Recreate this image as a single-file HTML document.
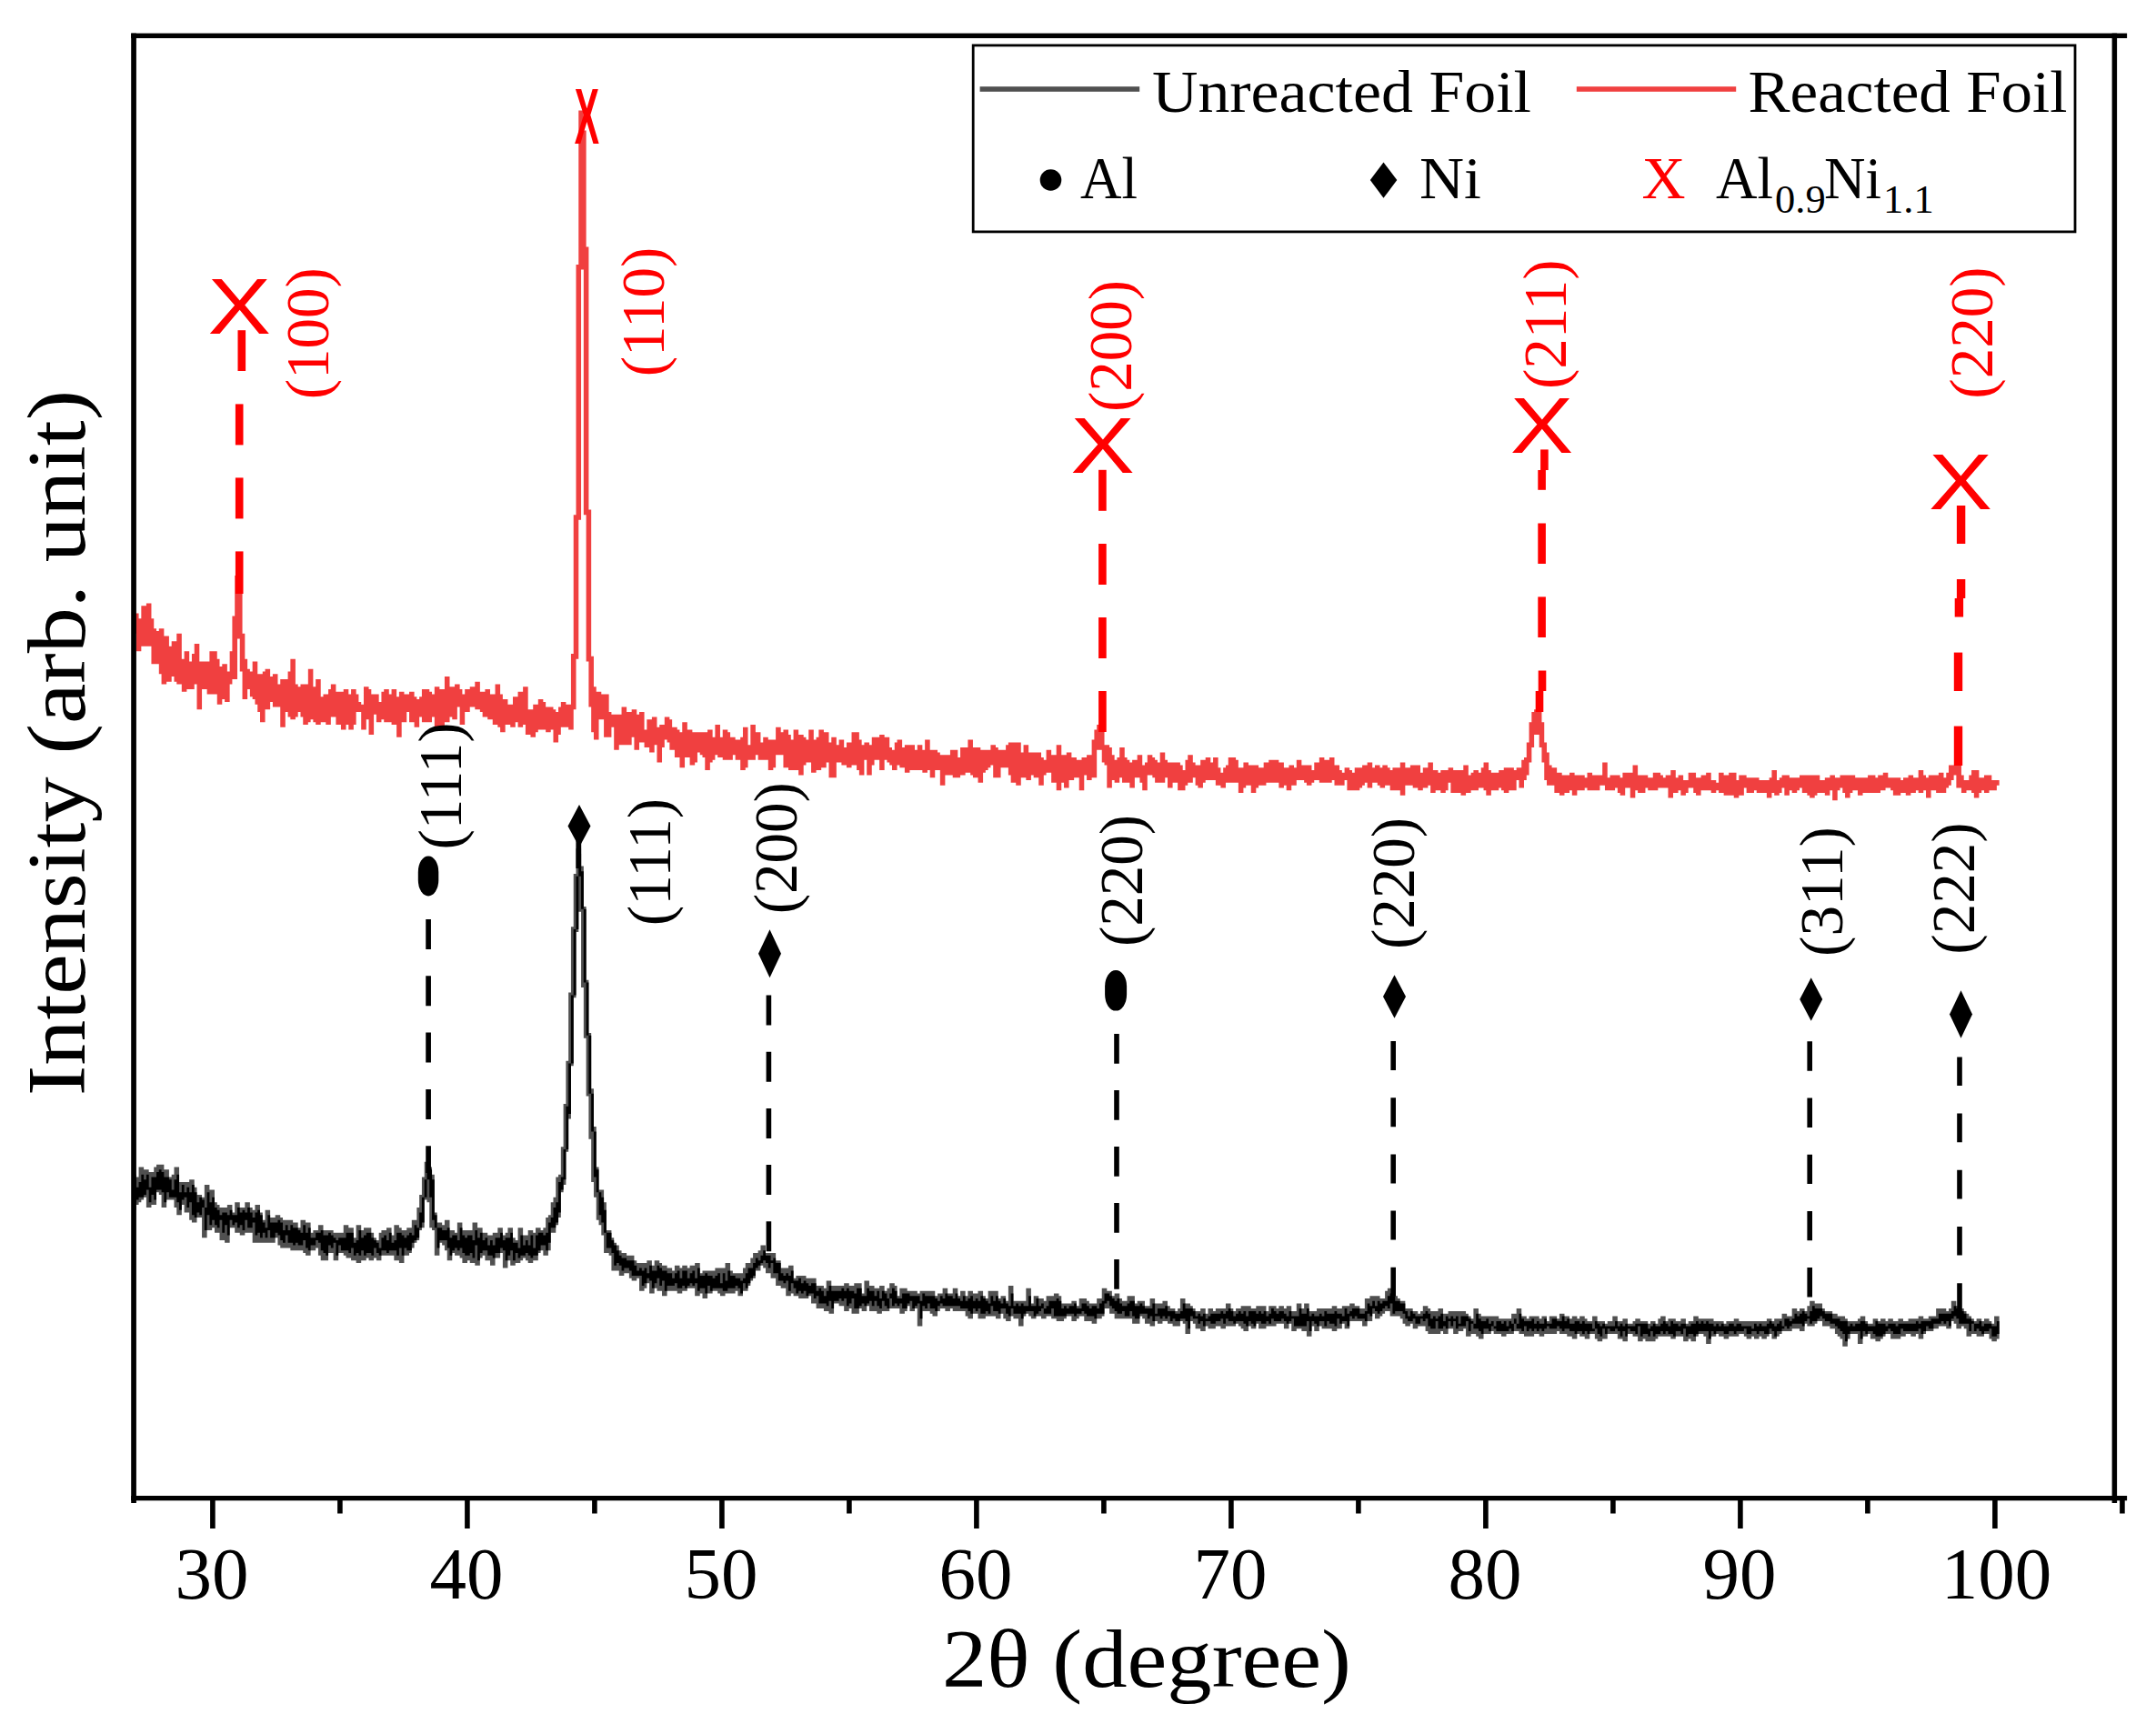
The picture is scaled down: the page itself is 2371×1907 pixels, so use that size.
<!DOCTYPE html>
<html lang="en"><head><meta charset="utf-8"><title>XRD patterns of unreacted and reacted Al/Ni foil</title>
<style>html,body{margin:0;padding:0;background:#fff;}svg{display:block;}</style></head>
<body>
<svg width="2371" height="1907" viewBox="0 0 2371 1907">
<rect x="0" y="0" width="2371" height="1907" fill="#fff"/>
<path d="M147.00 674.60H152.56V680.16H155.34V666.26H160.90V663.48H166.46V680.16H169.24V691.28H172.02V694.06H174.80V691.28H180.36V699.62H185.92V710.74H188.70V705.18H194.26V696.84H199.82V724.64H202.60V716.30H208.16V727.42H210.94V719.08H213.72V707.96H219.28V727.42H230.40V716.30H238.74V724.64H241.52V732.98H244.30V730.20H249.86V738.54H252.64V716.30H255.42V677.38H258.20V632.90H260.98V630.12H266.54V696.84H269.32V724.64H272.10V735.76H274.88V738.54H277.66V727.42H283.22V741.32H288.78V738.54H291.56V735.76H297.12V744.10H299.90V741.32H305.46V752.44H308.24V746.88H316.58V738.54H319.36V724.64H324.92V752.44H327.70V755.22H330.48V752.44H338.82V735.76H344.38V755.22H347.16V746.88H352.72V766.34H355.50V763.56H361.06V758.00H363.84V752.44H369.40V760.78H377.74V758.00H383.30V763.56H386.08V758.00H391.64V763.56H394.42V771.90H397.20V774.68H399.98V755.22H405.54V758.00H408.32V763.56H416.66V771.90H419.44V760.78H422.22V758.00H427.78V763.56H430.56V758.00H436.12V766.34H438.90V760.78H444.46V763.56H450.02V760.78H455.58V766.34H458.36V769.12H461.14V766.34H463.92V758.00H472.26V760.78H475.04V763.56H477.82V755.22H483.38V758.00H488.94V744.10H494.50V755.22H500.06V752.44H505.62V758.00H508.40V763.56H511.18V758.00H516.74V755.22H522.30V749.66H527.86V760.78H533.42V758.00H538.98V763.56H544.54V752.44H550.10V763.56H552.88V769.12H558.44V774.68H564.00V766.34H569.56V760.78H575.12V755.22H580.68V780.24H586.24V774.68H591.80V769.12H597.36V771.90H600.14V777.46H608.48V780.24H611.26V783.02H614.04V777.46H616.82V771.90H622.38V774.68H627.94V719.08H630.72V566.18H633.50V290.96H636.28V121.38H641.84V143.62H644.62V271.50H647.40V560.62H650.18V721.86H652.96V755.22H655.74V760.78H661.30V763.56H669.64V783.02H672.42V785.80H683.54V777.46H689.10V783.02H694.66V780.24H700.22V785.80H703.00V783.02H708.56V802.48H711.34V791.36H716.90V788.58H722.46V799.70H725.24V796.92H730.80V788.58H736.36V791.36H739.14V799.70H744.70V802.48H747.48V805.26H750.26V794.14H755.82V802.48H761.38V805.26H778.06V802.48H783.62V810.82H786.40V796.92H791.96V810.82H794.74V802.48H800.30V805.26H803.08V810.82H808.64V813.60H814.20V810.82H816.98V799.70H822.54V819.16H825.32V796.92H830.88V805.26H836.44V816.38H839.22V810.82H844.78V813.60H853.12V799.70H858.68V805.26H861.46V802.48H867.02V808.04H869.80V813.60H872.58V802.48H878.14V808.04H883.70V810.82H886.48V813.60H889.26V802.48H894.82V813.60H897.60V810.82H900.38V802.48H905.94V805.26H911.50V816.38H914.28V810.82H919.84V819.16H922.62V813.60H928.18V821.94H930.96V816.38H936.52V805.26H944.86V813.60H947.64V819.16H950.42V816.38H955.98V819.16H958.76V810.82H967.10V808.04H972.66V810.82H978.22V821.94H981.00V824.72H983.78V816.38H986.56V813.60H992.12V821.94H994.90V819.16H1006.02V824.72H1008.80V819.16H1014.36V824.72H1017.14V813.60H1022.70V824.72H1031.04V827.50H1033.82V830.28H1044.94V824.72H1053.28V833.06H1056.06V821.94H1064.40V813.60H1069.96V821.94H1078.30V824.72H1089.42V819.16H1094.98V821.94H1097.76V824.72H1106.10V819.16H1108.88V816.38H1122.78V827.50H1125.56V819.16H1131.12V827.50H1145.02V833.06H1147.80V835.84H1150.58V824.72H1156.14V830.28H1161.70V819.16H1167.26V830.28H1172.82V827.50H1178.38V833.06H1183.94V835.84H1189.50V833.06H1195.06V830.28H1200.62V813.60H1203.40V802.48H1206.18V796.92H1211.74V802.48H1214.52V819.16H1220.08V821.94H1222.86V830.28H1225.64V835.84H1228.42V833.06H1231.20V821.94H1236.76V833.06H1239.54V835.84H1242.32V838.62H1245.10V835.84H1250.66V830.28H1256.22V841.40H1259.00V838.62H1261.78V830.28H1267.34V833.06H1270.12V835.84H1272.90V838.62H1275.68V827.50H1281.24V835.84H1284.02V838.62H1297.92V841.40H1300.70V846.96H1303.48V835.84H1306.26V830.28H1311.82V838.62H1314.60V841.40H1320.16V835.84H1325.72V833.06H1331.28V838.62H1334.06V833.06H1339.62V844.18H1342.40V849.74H1345.18V844.18H1347.96V841.40H1350.74V833.06H1359.08V835.84H1361.86V844.18H1367.42V838.62H1372.98V841.40H1384.10V844.18H1389.66V838.62H1395.22V835.84H1406.34V838.62H1411.90V844.18H1417.46V841.40H1423.02V844.18H1425.80V835.84H1431.36V841.40H1442.48V846.96H1445.26V838.62H1450.82V833.06H1456.38V835.84H1461.94V833.06H1467.50V841.40H1473.06V846.96H1475.84V849.74H1478.62V844.18H1484.18V846.96H1486.96V849.74H1489.74V844.18H1498.08V841.40H1503.64V838.62H1509.20V844.18H1511.98V841.40H1517.54V844.18H1520.32V841.40H1525.88V844.18H1528.66V846.96H1531.44V844.18H1539.78V838.62H1545.34V844.18H1550.90V841.40H1562.02V849.74H1564.80V844.18H1570.36V838.62H1575.92V846.96H1581.48V849.74H1584.26V846.96H1592.60V844.18H1598.16V846.96H1609.28V841.40H1614.84V852.52H1617.62V849.74H1620.40V846.96H1625.96V849.74H1628.74V844.18H1631.52V838.62H1637.08V846.96H1639.86V849.74H1648.20V846.96H1653.76V844.18H1664.88V846.96H1667.66V844.18H1673.22V835.84H1676.00V833.06H1678.78V816.38H1681.56V794.14H1684.34V783.02H1687.12V780.24H1695.46V794.14H1698.24V816.38H1701.02V827.50H1703.80V841.40H1706.58V844.18H1712.14V849.74H1717.70V852.52H1726.04V849.74H1731.60V852.52H1742.72V855.30H1745.50V849.74H1751.06V852.52H1762.18V838.62H1767.74V855.30H1770.52V852.52H1781.64V855.30H1784.42V849.74H1795.54V841.40H1801.10V852.52H1812.22V855.30H1817.78V849.74H1826.12V852.52H1828.90V855.30H1831.68V852.52H1837.24V846.96H1842.80V855.30H1845.58V852.52H1851.14V858.08H1856.70V849.74H1865.04V855.30H1870.60V852.52H1876.16V849.74H1881.72V858.08H1887.28V860.86H1890.06V849.74H1895.62V852.52H1901.18V849.74H1909.52V858.08H1912.30V852.52H1920.64V855.30H1934.54V858.08H1945.66V855.30H1948.44V846.96H1954.00V858.08H1956.78V855.30H1959.56V852.52H1967.90V855.30H1979.02V852.52H2001.26V858.08H2006.82V855.30H2012.38V852.52H2017.94V855.30H2023.50V852.52H2040.18V855.30H2054.08V852.52H2062.42V855.30H2065.20V852.52H2070.76V849.74H2076.32V855.30H2090.22V858.08H2093.00V855.30H2098.56V852.52H2104.12V855.30H2109.68V846.96H2115.24V852.52H2118.02V855.30H2120.80V852.52H2131.92V849.74H2137.48V855.30H2140.26V849.74H2143.04V841.40H2156.94V852.52H2159.72V858.08H2165.28V852.52H2168.06V846.96H2176.40V855.30H2181.96V852.52H2190.30V858.08H2198.64V863.64H2195.86V869.20H2187.52V871.98H2181.96V869.20H2179.18V871.98H2176.40V877.54H2170.84V871.98H2168.06V869.20H2162.50V871.98H2156.94V866.42H2151.38V852.52H2148.60V858.08H2145.82V863.64H2143.04V866.42H2140.26V871.98H2129.14V869.20H2123.58V877.54H2118.02V869.20H2115.24V871.98H2109.68V869.20H2106.90V871.98H2101.34V874.76H2095.78V871.98H2090.22V874.76H2081.88V869.20H2079.10V866.42H2073.54V869.20H2067.98V871.98H2048.52V874.76H2042.96V869.20H2037.40V871.98H2034.62V877.54H2029.06V871.98H2026.28V866.42H2023.50V869.20H2020.72V880.32H2015.16V869.20H2012.38V874.76H2006.82V871.98H1998.48V874.76H1995.70V877.54H1990.14V874.76H1987.36V871.98H1981.80V866.42H1979.02V869.20H1976.24V871.98H1970.68V869.20H1967.90V874.76H1962.34V866.42H1959.56V871.98H1956.78V874.76H1951.22V871.98H1948.44V877.54H1942.88V871.98H1931.76V869.20H1928.98V871.98H1920.64V866.42H1917.86V874.76H1912.30V877.54H1906.74V874.76H1895.62V871.98H1890.06V869.20H1887.28V871.98H1881.72V869.20H1870.60V874.76H1865.04V871.98H1862.26V866.42H1856.70V871.98H1853.92V874.76H1848.36V869.20H1845.58V871.98H1840.02V877.54H1834.46V866.42H1823.34V869.20H1812.22V866.42H1809.44V871.98H1801.10V869.20H1798.32V877.54H1792.76V866.42H1787.20V874.76H1781.64V871.98H1778.86V866.42H1776.08V869.20H1764.96V863.64H1759.40V869.20H1745.50V866.42H1742.72V869.20H1734.38V874.76H1728.82V869.20H1726.04V871.98H1720.48V874.76H1714.92V871.98H1709.36V863.64H1701.02V858.08H1698.24V838.62H1695.46V821.94H1692.68V808.04H1687.12V821.94H1684.34V838.62H1681.56V852.52H1678.78V858.08H1676.00V866.42H1670.44V858.08H1667.66V869.20H1659.32V871.98H1653.76V869.20H1650.98V866.42H1648.20V869.20H1639.86V874.76H1634.30V869.20H1631.52V866.42H1625.96V869.20H1617.62V871.98H1612.06V874.76H1606.50V871.98H1595.38V860.86H1592.60V869.20H1589.82V871.98H1584.26V869.20H1578.70V871.98H1573.14V863.64H1570.36V866.42H1564.80V869.20H1559.24V866.42H1553.68V863.64H1545.34V874.76H1539.78V869.20H1528.66V863.64H1523.10V866.42H1517.54V863.64H1514.76V860.86H1509.20V866.42H1503.64V860.86H1500.86V863.64H1498.08V866.42H1495.30V869.20H1481.40V858.08H1478.62V863.64H1467.50V858.08H1464.72V860.86H1450.82V858.08H1445.26V860.86H1442.48V863.64H1436.92V860.86H1434.14V858.08H1425.80V863.64H1420.24V869.20H1414.68V863.64H1411.90V866.42H1406.34V860.86H1392.44V863.64H1384.10V866.42H1381.32V871.98H1375.76V863.64H1370.20V866.42H1367.42V871.98H1361.86V860.86H1347.96V866.42H1342.40V863.64H1336.84V858.08H1325.72V860.86H1322.94V866.42H1317.38V863.64H1314.60V855.30H1311.82V860.86H1306.26V863.64H1303.48V869.20H1295.14V860.86H1289.58V866.42H1284.02V855.30H1281.24V860.86H1270.12V855.30H1267.34V852.52H1261.78V869.20H1256.22V860.86H1253.44V855.30H1247.88V866.42H1242.32V860.86H1233.98V855.30H1231.20V860.86H1225.64V858.08H1222.86V866.42H1217.30V841.40H1214.52V838.62H1211.74V824.72H1206.18V855.30H1200.62V858.08H1195.06V852.52H1192.28V869.20H1186.72V855.30H1181.16V858.08H1175.60V866.42H1170.04V860.86H1167.26V869.20H1161.70V860.86H1156.14V849.74H1150.58V852.52H1147.80V863.64H1142.24V855.30H1136.68V852.52H1133.90V858.08H1128.34V855.30H1122.78V863.64H1117.22V860.86H1111.66V852.52H1108.88V844.18H1100.54V855.30H1092.20V841.40H1089.42V844.18H1086.64V846.96H1083.86V849.74H1081.08V860.86H1075.52V855.30H1069.96V852.52H1067.18V849.74H1061.62V852.52H1056.06V855.30H1047.72V852.52H1039.38V863.64H1033.82V846.96H1028.26V855.30H1022.70V846.96H1019.92V849.74H1014.36V846.96H1000.46V849.74H994.90V844.18H989.34V841.40H986.56V846.96H981.00V841.40H978.22V838.62H975.44V835.84H972.66V846.96H967.10V835.84H961.54V841.40H958.76V852.52H953.20V835.84H950.42V852.52H944.86V846.96H942.08V841.40H936.52V844.18H930.96V841.40H925.40V838.62H919.84V855.30H911.50V838.62H908.72V844.18H903.16V846.96H897.60V849.74H892.04V838.62H886.48V841.40H883.70V852.52H878.14V846.96H867.02V844.18H861.46V830.28H853.12V844.18H850.34V846.96H844.78V835.84H833.66V830.28H830.88V835.84H822.54V844.18H819.76V846.96H814.20V835.84H808.64V830.28H805.86V835.84H794.74V833.06H789.18V830.28H786.40V835.84H783.62V838.62H780.84V846.96H775.28V833.06H772.50V830.28H769.72V827.50H766.94V838.62H764.16V841.40H758.60V833.06H753.04V844.18H747.48V833.06H741.92V824.72H736.36V816.38H733.58V813.60H730.80V821.94H728.02V838.62H722.46V819.16H719.68V827.50H714.12V821.94H708.56V816.38H703.00V824.72H697.44V810.82H694.66V819.16H680.76V824.72H675.20V799.70H672.42V810.82H664.08V791.36H658.52V813.60H652.96V805.26H650.18V777.46H647.40V727.42H644.62V566.18H641.84V296.52H639.06V571.74H636.28V724.64H633.50V780.24H630.72V802.48H625.16V799.70H616.82V808.04H614.04V816.38H608.48V802.48H605.70V805.26H600.14V802.48H591.80V805.26H589.02V810.82H583.46V808.04H577.90V796.92H575.12V799.70H569.56V794.14H566.78V799.70H561.22V796.92H555.66V805.26H550.10V799.70H547.32V796.92H541.76V791.36H536.20V788.58H530.64V783.02H527.86V780.24H522.30V777.46H516.74V783.02H511.18V796.92H505.62V777.46H502.84V791.36H497.28V788.58H494.50V794.14H488.94V799.70H483.38V802.48H477.82V788.58H475.04V794.14H463.92V788.58H461.14V799.70H455.58V794.14H450.02V783.02H447.24V794.14H441.68V810.82H436.12V796.92H430.56V794.14H422.22V791.36H419.44V794.14H413.88V785.80H411.10V808.04H405.54V791.36H402.76V802.48H397.20V783.02H391.64V796.92H388.86V802.48H383.30V796.92H380.52V802.48H374.96V796.92H369.40V788.58H363.84V796.92H358.28V794.14H352.72V796.92H347.16V794.14H344.38V791.36H341.60V794.14H338.82V796.92H333.26V788.58H330.48V783.02H327.70V788.58H324.92V791.36H319.36V788.58H316.58V783.02H313.80V799.70H308.24V777.46H299.90V771.90H297.12V780.24H291.56V794.14H286.00V783.02H283.22V774.68H280.44V769.12H277.66V766.34H274.88V758.00H272.10V769.12H266.54V738.54H263.76V702.40H260.98V746.88H255.42V752.44H252.64V771.90H247.08V769.12H244.30V774.68H238.74V763.56H227.62V758.00H222.06V780.24H216.50V752.44H213.72V758.00H205.38V760.78H199.82V752.44H194.26V749.66H191.48V744.10H188.70V749.66H183.14V752.44H177.58V741.32H174.80V730.20H166.46V710.74H155.34V716.30H149.78V696.84H147.00Z" fill="#F04040"/>
<path d="M147.00 1291.76H149.78V1294.54H152.56V1283.42H158.12V1286.20H163.68V1288.98H169.24V1283.42H172.02V1280.64H180.36V1286.20H185.92V1294.54H188.70V1291.76H191.48V1283.42H197.04V1300.10H208.16V1297.32H213.72V1305.66H216.50V1314.00H222.06V1316.78H224.84V1302.88H230.40V1308.44H235.96V1322.34H238.74V1325.12H241.52V1327.90H249.86V1325.12H255.42V1333.46H258.20V1322.34H263.76V1327.90H269.32V1322.34H274.88V1327.90H277.66V1330.68H280.44V1325.12H286.00V1333.46H288.78V1341.80H291.56V1330.68H297.12V1339.02H302.68V1336.24H308.24V1339.02H311.02V1341.80H322.14V1344.58H327.70V1350.14H330.48V1341.80H336.04V1344.58H341.60V1355.70H344.38V1352.92H349.94V1347.36H355.50V1352.92H366.62V1355.70H377.74V1347.36H383.30V1350.14H388.86V1361.26H391.64V1347.36H397.20V1352.92H399.98V1350.14H408.32V1355.70H411.10V1361.26H413.88V1364.04H416.66V1355.70H419.44V1352.92H425.00V1350.14H430.56V1358.48H433.34V1347.36H438.90V1350.14H441.68V1352.92H447.24V1350.14H452.80V1341.80H458.36V1327.90H461.14V1314.00H463.92V1294.54H466.70V1277.86H472.26V1283.42H475.04V1291.76H477.82V1333.46H480.60V1344.58H486.16V1347.36H488.94V1341.80H494.50V1352.92H500.06V1355.70H502.84V1344.58H508.40V1352.92H519.52V1344.58H525.08V1350.14H530.64V1355.70H536.20V1358.48H541.76V1355.70H547.32V1350.14H552.88V1358.48H555.66V1355.70H558.44V1350.14H564.00V1361.26H566.78V1364.04H569.56V1350.14H575.12V1358.48H580.68V1352.92H586.24V1355.70H589.02V1350.14H594.58V1352.92H597.36V1350.14H600.14V1339.02H602.92V1336.24H605.70V1322.34H608.48V1316.78H611.26V1294.54H614.04V1291.76H616.82V1261.18H619.60V1213.92H622.38V1166.66H625.16V1091.60H627.94V1019.32H630.72V960.94H633.50V933.14H639.06V952.60H641.84V997.08H644.62V1077.70H647.40V1136.08H650.18V1197.24H652.96V1238.94H655.74V1283.42H658.52V1308.44H664.08V1322.34H666.86V1352.92H672.42V1361.26H675.20V1366.82H677.98V1369.60H680.76V1375.16H683.54V1377.94H689.10V1380.72H697.44V1386.28H700.22V1389.06H711.34V1386.28H716.90V1391.84H719.68V1386.28H725.24V1389.06H728.02V1391.84H733.58V1394.62H739.14V1397.40H741.92V1391.84H747.48V1394.62H750.26V1391.84H755.82V1394.62H758.60V1391.84H764.16V1389.06H769.72V1400.18H772.50V1397.40H786.40V1394.62H797.52V1389.06H803.08V1397.40H805.86V1400.18H816.98V1394.62H819.76V1389.06H825.32V1383.50H828.10V1377.94H833.66V1375.16H836.44V1369.60H842.00V1377.94H853.12V1386.28H858.68V1394.62H867.02V1391.84H872.58V1405.74H875.36V1402.96H886.48V1405.74H897.60V1414.08H905.94V1416.86H908.72V1408.52H914.28V1414.08H928.18V1411.30H933.74V1414.08H939.30V1411.30H947.64V1422.42H950.42V1408.52H955.98V1414.08H961.54V1416.86H967.10V1414.08H972.66V1419.64H975.44V1416.86H978.22V1411.30H983.78V1414.08H986.56V1425.20H989.34V1416.86H997.68V1419.64H1008.80V1422.42H1011.58V1419.64H1028.26V1425.20H1031.04V1422.42H1036.60V1416.86H1042.16V1422.42H1047.72V1416.86H1053.28V1425.20H1056.06V1419.64H1061.62V1425.20H1064.40V1419.64H1069.96V1422.42H1075.52V1419.64H1081.08V1425.20H1083.86V1427.98H1086.64V1419.64H1097.76V1427.98H1100.54V1425.20H1106.10V1430.76H1108.88V1414.08H1114.44V1430.76H1128.34V1416.86H1133.90V1433.54H1136.68V1425.20H1142.24V1427.98H1147.80V1430.76H1150.58V1425.20H1158.92V1422.42H1164.48V1425.20H1167.26V1433.54H1178.38V1430.76H1183.94V1436.32H1186.72V1427.98H1195.06V1430.76H1197.84V1433.54H1206.18V1427.98H1211.74V1416.86H1217.30V1419.64H1222.86V1425.20H1225.64V1422.42H1231.20V1427.98H1233.98V1430.76H1239.54V1425.20H1247.88V1433.54H1250.66V1430.76H1259.00V1436.32H1264.56V1427.98H1270.12V1433.54H1278.46V1430.76H1284.02V1436.32H1286.80V1439.10H1292.36V1441.88H1295.14V1439.10H1297.92V1427.98H1303.48V1433.54H1309.04V1436.32H1311.82V1439.10H1314.60V1441.88H1320.16V1439.10H1325.72V1444.66H1328.50V1439.10H1334.06V1441.88H1336.84V1439.10H1347.96V1433.54H1353.52V1439.10H1356.30V1441.88H1359.08V1439.10H1364.64V1436.32H1375.76V1439.10H1381.32V1436.32H1392.44V1441.88H1395.22V1436.32H1403.56V1439.10H1406.34V1436.32H1411.90V1439.10H1414.68V1436.32H1420.24V1441.88H1425.80V1433.54H1431.36V1439.10H1434.14V1433.54H1439.70V1441.88H1448.04V1439.10H1464.72V1436.32H1470.28V1439.10H1475.84V1436.32H1484.18V1433.54H1489.74V1436.32H1495.30V1439.10H1500.86V1427.98H1506.42V1425.20H1517.54V1427.98H1523.10V1419.64H1525.88V1416.86H1531.44V1419.64H1534.22V1425.20H1537.00V1427.98H1539.78V1430.76H1545.34V1439.10H1553.68V1441.88H1559.24V1444.66H1562.02V1441.88H1564.80V1436.32H1570.36V1439.10H1573.14V1441.88H1581.48V1439.10H1587.04V1444.66H1592.60V1441.88H1612.06V1444.66H1614.84V1447.44H1617.62V1450.22H1620.40V1439.10H1625.96V1444.66H1628.74V1447.44H1648.20V1450.22H1662.10V1444.66H1667.66V1439.10H1673.22V1447.44H1678.78V1450.22H1681.56V1447.44H1692.68V1450.22H1695.46V1447.44H1701.02V1453.00H1703.80V1447.44H1712.14V1450.22H1714.92V1444.66H1720.48V1447.44H1726.04V1450.22H1728.82V1447.44H1734.38V1450.22H1737.16V1447.44H1742.72V1450.22H1745.50V1453.00H1751.06V1447.44H1756.62V1453.00H1764.96V1455.78H1767.74V1453.00H1773.30V1447.44H1778.86V1453.00H1784.42V1450.22H1789.98V1455.78H1795.54V1453.00H1798.32V1450.22H1803.88V1453.00H1812.22V1455.78H1815.00V1453.00H1820.56V1455.78H1823.34V1450.22H1826.12V1447.44H1831.68V1453.00H1834.46V1450.22H1842.80V1453.00H1848.36V1450.22H1853.92V1455.78H1856.70V1453.00H1862.26V1447.44H1867.82V1450.22H1884.50V1453.00H1895.62V1455.78H1898.40V1453.00H1906.74V1450.22H1912.30V1453.00H1942.88V1450.22H1948.44V1453.00H1951.22V1450.22H1959.56V1444.66H1965.12V1447.44H1970.68V1439.10H1976.24V1441.88H1979.02V1439.10H1984.58V1441.88H1987.36V1436.32H1990.14V1430.76H1995.70V1433.54H2004.04V1439.10H2006.82V1441.88H2015.16V1444.66H2020.72V1447.44H2029.06V1450.22H2031.84V1453.00H2042.96V1450.22H2045.74V1447.44H2051.30V1453.00H2054.08V1455.78H2059.64V1450.22H2065.20V1453.00H2067.98V1450.22H2073.54V1453.00H2076.32V1450.22H2081.88V1453.00H2087.44V1450.22H2093.00V1453.00H2098.56V1450.22H2109.68V1447.44H2115.24V1450.22H2120.80V1447.44H2129.14V1439.10H2140.26V1441.88H2143.04V1439.10H2145.82V1430.76H2151.38V1436.32H2156.94V1439.10H2159.72V1441.88H2162.50V1444.66H2165.28V1447.44H2168.06V1450.22H2170.84V1453.00H2173.62V1450.22H2179.18V1453.00H2181.96V1450.22H2187.52V1453.00H2190.30V1455.78H2193.08V1447.44H2198.64V1472.46H2195.86V1475.24H2190.30V1472.46H2187.52V1466.90H2181.96V1469.68H2173.62V1466.90H2168.06V1469.68H2162.50V1461.34H2159.72V1458.56H2156.94V1461.34H2151.38V1455.78H2148.60V1453.00H2145.82V1461.34H2140.26V1458.56H2131.92V1461.34H2126.36V1464.12H2118.02V1466.90H2115.24V1472.46H2109.68V1466.90H2106.90V1469.68H2101.34V1466.90H2095.78V1469.68H2090.22V1472.46H2079.10V1466.90H2073.54V1469.68H2070.76V1472.46H2067.98V1475.24H2062.42V1472.46H2056.86V1466.90H2054.08V1469.68H2048.52V1478.02H2042.96V1466.90H2034.62V1472.46H2031.84V1480.80H2026.28V1472.46H2023.50V1469.68H2020.72V1466.90H2017.94V1461.34H2012.38V1458.56H2004.04V1453.00H1998.48V1455.78H1995.70V1458.56H1987.36V1455.78H1984.58V1464.12H1979.02V1461.34H1970.68V1464.12H1959.56V1466.90H1956.78V1469.68H1954.00V1472.46H1948.44V1466.90H1945.66V1469.68H1942.88V1472.46H1937.32V1469.68H1934.54V1472.46H1928.98V1469.68H1926.20V1472.46H1920.64V1469.68H1917.86V1466.90H1912.30V1469.68H1901.18V1472.46H1895.62V1469.68H1890.06V1466.90H1887.28V1469.68H1881.72V1478.02H1876.16V1469.68H1873.38V1466.90H1867.82V1469.68H1865.04V1475.24H1859.48V1472.46H1856.70V1475.24H1851.14V1469.68H1842.80V1472.46H1837.24V1469.68H1823.34V1472.46H1820.56V1475.24H1809.44V1472.46H1806.66V1475.24H1801.10V1469.68H1795.54V1466.90H1789.98V1475.24H1784.42V1472.46H1778.86V1466.90H1767.74V1472.46H1762.18V1475.24H1756.62V1472.46H1753.84V1466.90H1748.28V1472.46H1742.72V1469.68H1737.16V1466.90H1734.38V1472.46H1728.82V1469.68H1723.26V1466.90H1714.92V1464.12H1712.14V1466.90H1698.24V1469.68H1692.68V1466.90H1687.12V1469.68H1676.00V1466.90H1670.44V1464.12H1664.88V1466.90H1656.54V1469.68H1650.98V1466.90H1642.64V1464.12H1639.86V1466.90H1631.52V1472.46H1625.96V1469.68H1623.18V1466.90H1617.62V1469.68H1612.06V1461.34H1609.28V1464.12H1603.72V1466.90H1598.16V1461.34H1592.60V1466.90H1587.04V1464.12H1584.26V1466.90H1570.36V1464.12H1567.58V1458.56H1559.24V1461.34H1553.68V1455.78H1550.90V1458.56H1545.34V1455.78H1542.56V1450.22H1539.78V1447.44H1528.66V1441.88H1523.10V1444.66H1520.32V1447.44H1517.54V1450.22H1511.98V1444.66H1509.20V1453.00H1503.64V1458.56H1498.08V1453.00H1484.18V1461.34H1478.62V1455.78H1475.84V1461.34H1470.28V1464.12H1464.72V1461.34H1453.60V1458.56H1450.82V1464.12H1445.26V1458.56H1442.48V1469.68H1436.92V1464.12H1431.36V1461.34H1425.80V1464.12H1420.24V1455.78H1417.46V1461.34H1411.90V1455.78H1403.56V1458.56H1392.44V1461.34H1384.10V1455.78H1381.32V1461.34H1375.76V1458.56H1372.98V1464.12H1367.42V1461.34H1364.64V1458.56H1361.86V1455.78H1359.08V1458.56H1347.96V1461.34H1342.40V1458.56H1336.84V1461.34H1328.50V1458.56H1325.72V1464.12H1320.16V1461.34H1314.60V1455.78H1311.82V1453.00H1309.04V1466.90H1303.48V1455.78H1300.70V1453.00H1297.92V1458.56H1289.58V1455.78H1284.02V1453.00H1278.46V1455.78H1272.90V1453.00H1270.12V1458.56H1264.56V1455.78H1259.00V1450.22H1256.22V1447.44H1253.44V1455.78H1245.10V1450.22H1225.64V1444.66H1220.08V1439.10H1214.52V1447.44H1211.74V1450.22H1206.18V1455.78H1200.62V1453.00H1192.28V1447.44H1186.72V1450.22H1183.94V1453.00H1178.38V1447.44H1172.82V1450.22H1170.04V1453.00H1161.70V1450.22H1156.14V1447.44H1150.58V1450.22H1145.02V1447.44H1139.46V1450.22H1133.90V1447.44H1131.12V1444.66H1128.34V1447.44H1125.56V1458.56H1120.00V1450.22H1114.44V1447.44H1111.66V1453.00H1106.10V1450.22H1103.32V1444.66H1100.54V1450.22H1094.98V1447.44H1083.86V1450.22H1075.52V1444.66H1069.96V1450.22H1064.40V1447.44H1061.62V1441.88H1047.72V1439.10H1044.94V1441.88H1039.38V1439.10H1033.82V1441.88H1031.04V1447.44H1025.48V1444.66H1022.70V1441.88H1014.36V1458.56H1008.80V1439.10H1006.02V1441.88H1000.46V1436.32H997.68V1441.88H994.90V1444.66H989.34V1439.10H978.22V1441.88H969.88V1444.66H964.32V1441.88H955.98V1436.32H953.20V1441.88H947.64V1439.10H944.86V1444.66H936.52V1439.10H933.74V1441.88H928.18V1436.32H922.62V1433.54H917.06V1444.66H911.50V1441.88H905.94V1439.10H897.60V1433.54H892.04V1425.20H889.26V1427.98H878.14V1425.20H872.58V1422.42H869.80V1425.20H864.24V1416.86H858.68V1414.08H853.12V1405.74H847.56V1400.18H842.00V1394.62H839.22V1391.84H836.44V1397.40H830.88V1405.74H828.10V1408.52H825.32V1414.08H822.54V1419.64H816.98V1425.20H811.42V1419.64H808.64V1422.42H797.52V1425.20H791.96V1422.42H789.18V1419.64H783.62V1422.42H778.06V1427.98H772.50V1422.42H769.72V1425.20H764.16V1416.86H755.82V1419.64H750.26V1422.42H744.70V1419.64H733.58V1425.20H728.02V1419.64H722.46V1416.86H719.68V1422.42H714.12V1411.30H711.34V1416.86H708.56V1419.64H703.00V1405.74H700.22V1408.52H694.66V1405.74H691.88V1400.18H686.32V1402.96H680.76V1397.40H672.42V1380.72H669.64V1377.94H664.08V1358.48H661.30V1347.36H658.52V1341.80H655.74V1316.78H652.96V1300.10H650.18V1252.84H647.40V1205.58H644.62V1141.64H641.84V1086.04H639.06V1002.64H636.28V1024.88H633.50V1097.16H630.72V1172.22H627.94V1230.60H625.16V1266.74H622.38V1302.88H619.60V1311.22H616.82V1339.02H614.04V1347.36H611.26V1355.70H605.70V1375.16H602.92V1380.72H597.36V1375.16H594.58V1377.94H591.80V1386.28H586.24V1389.06H580.68V1386.28H577.90V1383.50H575.12V1386.28H572.34V1389.06H566.78V1391.84H561.22V1386.28H558.44V1394.62H552.88V1377.94H550.10V1383.50H544.54V1391.84H538.98V1386.28H533.42V1380.72H530.64V1383.50H527.86V1391.84H522.30V1389.06H516.74V1386.28H513.96V1389.06H508.40V1383.50H505.62V1380.72H500.06V1377.94H497.28V1386.28H491.72V1375.16H488.94V1369.60H486.16V1366.82H483.38V1380.72H477.82V1352.92H475.04V1350.14H472.26V1322.34H469.48V1319.56H466.70V1350.14H463.92V1352.92H461.14V1364.04H458.36V1366.82H455.58V1372.38H452.80V1377.94H450.02V1380.72H444.46V1389.06H438.90V1386.28H433.34V1380.72H419.44V1386.28H413.88V1383.50H411.10V1386.28H405.54V1383.50H402.76V1386.28H397.20V1389.06H391.64V1386.28H386.08V1383.50H380.52V1380.72H377.74V1377.94H372.18V1386.28H366.62V1377.94H361.06V1386.28H352.72V1380.72H349.94V1372.38H347.16V1375.16H341.60V1380.72H336.04V1377.94H333.26V1375.16H319.36V1372.38H308.24V1369.60H305.46V1361.26H302.68V1366.82H277.66V1355.70H269.32V1358.48H263.76V1355.70H258.20V1350.14H252.64V1366.82H247.08V1364.04H241.52V1355.70H235.96V1350.14H233.18V1352.92H227.62V1361.26H222.06V1339.02H216.50V1344.58H210.94V1341.80H208.16V1333.46H202.60V1325.12H199.82V1336.24H194.26V1327.90H191.48V1319.56H183.14V1327.90H177.58V1314.00H174.80V1311.22H172.02V1325.12H166.46V1327.90H160.90V1316.78H158.12V1319.56H155.34V1322.34H152.56V1325.12H149.78V1330.68H147.00Z" fill="#505050"/>
<path d="M147.00 1297.32H149.78V1305.66H152.56V1300.10H155.34V1291.76H158.12V1297.32H160.90V1291.76H163.68V1305.66H166.46V1294.54H172.02V1288.98H174.80V1286.20H177.58V1288.98H180.36V1294.54H185.92V1297.32H188.70V1308.44H191.48V1297.32H194.26V1291.76H197.04V1311.22H199.82V1302.88H202.60V1311.22H205.38V1305.66H208.16V1311.22H210.94V1302.88H213.72V1311.22H216.50V1322.34H219.28V1316.78H222.06V1319.56H224.84V1327.90H227.62V1311.22H230.40V1322.34H233.18V1316.78H235.96V1327.90H238.74V1330.68H241.52V1336.24H244.30V1333.46H249.86V1336.24H252.64V1330.68H255.42V1336.24H260.98V1327.90H263.76V1333.46H266.54V1330.68H269.32V1333.46H272.10V1327.90H274.88V1333.46H277.66V1339.02H280.44V1333.46H283.22V1330.68H286.00V1336.24H288.78V1344.58H291.56V1350.14H294.34V1336.24H297.12V1344.58H305.46V1341.80H308.24V1344.58H311.02V1352.92H313.80V1347.36H316.58V1352.92H319.36V1347.36H322.14V1350.14H327.70V1352.92H330.48V1355.70H333.26V1347.36H336.04V1355.70H338.82V1350.14H341.60V1361.26H347.16V1355.70H352.72V1352.92H355.50V1358.48H361.06V1355.70H363.84V1358.48H366.62V1361.26H369.40V1364.04H372.18V1361.26H380.52V1355.70H388.86V1366.82H391.64V1364.04H394.42V1352.92H397.20V1361.26H399.98V1358.48H402.76V1355.70H408.32V1361.26H411.10V1364.04H413.88V1366.82H416.66V1372.38H419.44V1361.26H422.22V1358.48H425.00V1364.04H427.78V1355.70H430.56V1366.82H433.34V1364.04H436.12V1355.70H441.68V1358.48H444.46V1361.26H447.24V1358.48H450.02V1355.70H452.80V1358.48H455.58V1347.36H458.36V1350.14H461.14V1333.46H463.92V1316.78H466.70V1297.32H469.48V1280.64H472.26V1286.20H475.04V1297.32H477.82V1336.24H480.60V1350.14H486.16V1352.92H491.72V1350.14H494.50V1361.26H497.28V1358.48H502.84V1364.04H505.62V1350.14H508.40V1358.48H511.18V1361.26H513.96V1358.48H519.52V1364.04H522.30V1352.92H525.08V1361.26H527.86V1355.70H530.64V1364.04H533.42V1361.26H536.20V1369.60H538.98V1364.04H541.76V1369.60H544.54V1361.26H550.10V1355.70H552.88V1364.04H555.66V1361.26H561.22V1355.70H564.00V1366.82H569.56V1372.38H572.34V1358.48H575.12V1369.60H577.90V1364.04H580.68V1369.60H583.46V1358.48H586.24V1372.38H589.02V1358.48H591.80V1355.70H597.36V1358.48H600.14V1355.70H602.92V1344.58H605.70V1339.02H608.48V1327.90H611.26V1322.34H614.04V1300.10H616.82V1294.54H619.60V1263.96H622.38V1216.70H625.16V1169.44H627.94V1094.38H630.72V1022.10H633.50V963.72H636.28V938.70H639.06V958.16H641.84V999.86H644.62V1080.48H647.40V1138.86H650.18V1202.80H652.96V1244.50H655.74V1286.20H658.52V1311.22H661.30V1316.78H664.08V1330.68H666.86V1355.70H672.42V1364.04H675.20V1369.60H677.98V1375.16H680.76V1380.72H683.54V1383.50H689.10V1386.28H697.44V1391.84H700.22V1397.40H703.00V1394.62H705.78V1397.40H708.56V1394.62H711.34V1400.18H714.12V1391.84H716.90V1397.40H722.46V1391.84H725.24V1394.62H728.02V1397.40H733.58V1400.18H739.14V1405.74H741.92V1400.18H744.70V1397.40H747.48V1405.74H750.26V1397.40H755.82V1405.74H758.60V1400.18H761.38V1397.40H764.16V1405.74H766.94V1394.62H769.72V1402.96H775.28V1400.18H778.06V1402.96H783.62V1405.74H786.40V1402.96H789.18V1400.18H791.96V1411.30H794.74V1400.18H797.52V1408.52H800.30V1397.40H803.08V1402.96H808.64V1405.74H814.20V1408.52H816.98V1405.74H819.76V1400.18H822.54V1394.62H828.10V1389.06H830.88V1383.50H833.66V1386.28H836.44V1380.72H839.22V1375.16H842.00V1380.72H847.56V1386.28H850.34V1383.50H853.12V1389.06H858.68V1400.18H861.46V1402.96H864.24V1400.18H867.02V1402.96H869.80V1397.40H872.58V1408.52H878.14V1405.74H880.92V1411.30H883.70V1408.52H886.48V1411.30H889.26V1414.08H892.04V1411.30H897.60V1419.64H900.38V1416.86H903.16V1419.64H905.94V1425.20H908.72V1419.64H911.50V1414.08H914.28V1419.64H925.40V1416.86H928.18V1419.64H930.96V1416.86H933.74V1419.64H939.30V1422.42H942.08V1416.86H947.64V1425.20H953.20V1416.86H955.98V1419.64H961.54V1425.20H964.32V1419.64H967.10V1427.98H969.88V1419.64H972.66V1422.42H975.44V1427.98H978.22V1422.42H981.00V1416.86H983.78V1419.64H986.56V1427.98H992.12V1422.42H1000.46V1425.20H1011.58V1430.76H1014.36V1422.42H1017.14V1425.20H1028.26V1427.98H1031.04V1430.76H1033.82V1425.20H1036.60V1427.98H1039.38V1422.42H1042.16V1425.20H1047.72V1427.98H1050.50V1422.42H1053.28V1427.98H1056.06V1430.76H1058.84V1425.20H1061.62V1430.76H1064.40V1427.98H1067.18V1425.20H1069.96V1430.76H1072.74V1427.98H1075.52V1430.76H1078.30V1425.20H1081.08V1427.98H1083.86V1430.76H1086.64V1433.54H1089.42V1425.20H1092.20V1430.76H1094.98V1425.20H1097.76V1430.76H1100.54V1433.54H1103.32V1427.98H1106.10V1433.54H1108.88V1436.32H1111.66V1422.42H1114.44V1436.32H1117.22V1433.54H1120.00V1436.32H1122.78V1433.54H1125.56V1436.32H1131.12V1425.20H1133.90V1436.32H1139.46V1427.98H1142.24V1436.32H1145.02V1433.54H1147.80V1439.10H1150.58V1436.32H1153.36V1430.76H1161.70V1427.98H1164.48V1430.76H1167.26V1439.10H1170.04V1436.32H1172.82V1439.10H1175.60V1436.32H1181.16V1433.54H1183.94V1439.10H1189.50V1433.54H1195.06V1436.32H1197.84V1439.10H1200.62V1436.32H1206.18V1439.10H1208.96V1433.54H1211.74V1430.76H1214.52V1422.42H1220.08V1425.20H1222.86V1427.98H1225.64V1430.76H1228.42V1427.98H1231.20V1433.54H1233.98V1436.32H1239.54V1433.54H1242.32V1430.76H1247.88V1436.32H1253.44V1433.54H1256.22V1436.32H1259.00V1439.10H1267.34V1433.54H1270.12V1444.66H1272.90V1439.10H1281.24V1436.32H1284.02V1441.88H1292.36V1444.66H1297.92V1441.88H1300.70V1433.54H1303.48V1439.10H1311.82V1441.88H1314.60V1447.44H1317.38V1444.66H1320.16V1447.44H1322.94V1444.66H1325.72V1450.22H1328.50V1447.44H1331.28V1444.66H1342.40V1441.88H1345.18V1444.66H1347.96V1441.88H1350.74V1439.10H1353.52V1441.88H1356.30V1447.44H1359.08V1444.66H1361.86V1441.88H1364.64V1444.66H1367.42V1441.88H1370.20V1447.44H1372.98V1441.88H1381.32V1444.66H1384.10V1441.88H1386.88V1444.66H1389.66V1441.88H1392.44V1447.44H1395.22V1444.66H1398.00V1439.10H1400.78V1441.88H1403.56V1444.66H1406.34V1441.88H1411.90V1444.66H1414.68V1447.44H1417.46V1441.88H1420.24V1447.44H1428.58V1439.10H1431.36V1444.66H1436.92V1439.10H1439.70V1447.44H1442.48V1444.66H1445.26V1447.44H1450.82V1444.66H1453.60V1447.44H1456.38V1441.88H1459.16V1444.66H1467.50V1441.88H1470.28V1444.66H1475.84V1447.44H1478.62V1439.10H1481.40V1444.66H1484.18V1441.88H1486.96V1439.10H1495.30V1444.66H1500.86V1441.88H1503.64V1433.54H1506.42V1436.32H1509.20V1430.76H1511.98V1436.32H1514.76V1430.76H1517.54V1433.54H1520.32V1430.76H1525.88V1425.20H1528.66V1422.42H1531.44V1425.20H1534.22V1430.76H1539.78V1433.54H1545.34V1441.88H1548.12V1447.44H1550.90V1441.88H1553.68V1444.66H1556.46V1447.44H1564.80V1444.66H1567.58V1441.88H1570.36V1444.66H1573.14V1450.22H1575.92V1447.44H1578.70V1450.22H1581.48V1447.44H1584.26V1444.66H1587.04V1453.00H1589.82V1447.44H1592.60V1450.22H1595.38V1447.44H1598.16V1450.22H1600.94V1447.44H1603.72V1455.78H1606.50V1447.44H1614.84V1450.22H1617.62V1453.00H1620.40V1455.78H1623.18V1444.66H1625.96V1450.22H1628.74V1453.00H1634.30V1450.22H1637.08V1455.78H1639.86V1453.00H1642.64V1458.56H1645.42V1453.00H1650.98V1455.78H1653.76V1453.00H1656.54V1458.56H1659.32V1453.00H1662.10V1455.78H1664.88V1450.22H1667.66V1455.78H1670.44V1444.66H1673.22V1450.22H1676.00V1453.00H1684.34V1450.22H1687.12V1455.78H1689.90V1453.00H1692.68V1455.78H1698.24V1450.22H1701.02V1455.78H1706.58V1450.22H1712.14V1453.00H1717.70V1447.44H1720.48V1453.00H1723.26V1450.22H1726.04V1455.78H1731.60V1453.00H1737.16V1455.78H1739.94V1453.00H1742.72V1455.78H1751.06V1461.34H1753.84V1453.00H1756.62V1455.78H1759.40V1458.56H1762.18V1455.78H1764.96V1458.56H1776.08V1453.00H1778.86V1458.56H1781.64V1455.78H1784.42V1458.56H1787.20V1455.78H1789.98V1458.56H1798.32V1455.78H1812.22V1461.34H1815.00V1458.56H1817.78V1455.78H1820.56V1458.56H1826.12V1455.78H1828.90V1453.00H1831.68V1455.78H1834.46V1458.56H1837.24V1453.00H1840.02V1455.78H1845.58V1458.56H1848.36V1455.78H1853.92V1458.56H1859.48V1455.78H1865.04V1453.00H1867.82V1455.78H1870.60V1453.00H1873.38V1455.78H1876.16V1453.00H1878.94V1455.78H1884.50V1458.56H1887.28V1455.78H1890.06V1458.56H1892.84V1455.78H1895.62V1458.56H1901.18V1455.78H1906.74V1458.56H1909.52V1455.78H1915.08V1458.56H1926.20V1461.34H1928.98V1455.78H1931.76V1458.56H1934.54V1455.78H1937.32V1458.56H1942.88V1455.78H1945.66V1453.00H1948.44V1455.78H1951.22V1458.56H1954.00V1455.78H1956.78V1453.00H1959.56V1458.56H1962.34V1450.22H1967.90V1453.00H1970.68V1450.22H1973.46V1444.66H1976.24V1447.44H1979.02V1444.66H1981.80V1441.88H1984.58V1444.66H1987.36V1447.44H1990.14V1441.88H1992.92V1436.32H1995.70V1439.10H2004.04V1441.88H2006.82V1444.66H2015.16V1450.22H2023.50V1453.00H2031.84V1458.56H2034.62V1455.78H2037.40V1458.56H2040.18V1455.78H2045.74V1453.00H2051.30V1455.78H2054.08V1458.56H2062.42V1453.00H2065.20V1455.78H2073.54V1458.56H2076.32V1455.78H2084.66V1458.56H2087.44V1455.78H2106.90V1453.00H2109.68V1455.78H2112.46V1453.00H2123.58V1450.22H2131.92V1444.66H2145.82V1441.88H2148.60V1436.32H2151.38V1439.10H2154.16V1441.88H2159.72V1444.66H2162.50V1450.22H2168.06V1453.00H2170.84V1455.78H2176.40V1453.00H2179.18V1458.56H2181.96V1455.78H2190.30V1458.56H2195.86V1453.00H2198.64V1466.90H2195.86V1469.68H2190.30V1461.34H2187.52V1464.12H2181.96V1466.90H2179.18V1464.12H2176.40V1461.34H2173.62V1464.12H2170.84V1455.78H2168.06V1464.12H2165.28V1455.78H2154.16V1450.22H2151.38V1447.44H2148.60V1450.22H2145.82V1458.56H2143.04V1453.00H2140.26V1455.78H2137.48V1453.00H2134.70V1455.78H2126.36V1461.34H2120.80V1458.56H2118.02V1464.12H2115.24V1466.90H2112.46V1461.34H2109.68V1464.12H2093.00V1461.34H2090.22V1466.90H2081.88V1464.12H2079.10V1461.34H2076.32V1464.12H2073.54V1466.90H2070.76V1469.68H2062.42V1466.90H2059.64V1464.12H2054.08V1466.90H2051.30V1464.12H2048.52V1472.46H2045.74V1464.12H2034.62V1466.90H2031.84V1475.24H2029.06V1466.90H2026.28V1464.12H2023.50V1461.34H2020.72V1458.56H2017.94V1455.78H2012.38V1453.00H2006.82V1450.22H2004.04V1447.44H2001.26V1450.22H1998.48V1453.00H1992.92V1455.78H1990.14V1450.22H1987.36V1453.00H1984.58V1458.56H1981.80V1455.78H1970.68V1458.56H1967.90V1461.34H1965.12V1458.56H1962.34V1461.34H1959.56V1464.12H1954.00V1469.68H1951.22V1464.12H1948.44V1461.34H1945.66V1466.90H1940.10V1464.12H1934.54V1466.90H1931.76V1464.12H1926.20V1466.90H1920.64V1461.34H1917.86V1464.12H1909.52V1466.90H1906.74V1464.12H1901.18V1466.90H1895.62V1464.12H1887.28V1466.90H1884.50V1464.12H1881.72V1472.46H1878.94V1464.12H1867.82V1466.90H1865.04V1469.68H1862.26V1466.90H1856.70V1469.68H1853.92V1461.34H1851.14V1466.90H1848.36V1464.12H1842.80V1469.68H1840.02V1466.90H1834.46V1464.12H1831.68V1466.90H1828.90V1464.12H1826.12V1466.90H1820.56V1469.68H1817.78V1464.12H1815.00V1469.68H1812.22V1466.90H1806.66V1469.68H1803.88V1458.56H1801.10V1466.90H1798.32V1464.12H1792.76V1461.34H1789.98V1469.68H1787.20V1464.12H1784.42V1469.68H1781.64V1464.12H1778.86V1461.34H1776.08V1464.12H1770.52V1461.34H1767.74V1466.90H1764.96V1461.34H1762.18V1469.68H1759.40V1466.90H1756.62V1461.34H1753.84V1464.12H1748.28V1466.90H1745.50V1464.12H1742.72V1466.90H1739.94V1464.12H1734.38V1466.90H1731.60V1464.12H1726.04V1461.34H1720.48V1464.12H1717.70V1461.34H1714.92V1458.56H1712.14V1461.34H1703.80V1458.56H1701.02V1461.34H1698.24V1464.12H1695.46V1461.34H1692.68V1464.12H1689.90V1461.34H1687.12V1464.12H1684.34V1461.34H1681.56V1464.12H1678.78V1458.56H1676.00V1464.12H1673.22V1461.34H1667.66V1455.78H1664.88V1464.12H1662.10V1461.34H1659.32V1464.12H1645.42V1461.34H1642.64V1458.56H1639.86V1464.12H1637.08V1461.34H1631.52V1466.90H1628.74V1464.12H1625.96V1461.34H1620.40V1455.78H1617.62V1464.12H1614.84V1453.00H1612.06V1458.56H1603.72V1461.34H1600.94V1453.00H1598.16V1458.56H1595.38V1453.00H1592.60V1461.34H1589.82V1458.56H1587.04V1461.34H1581.48V1453.00H1578.70V1461.34H1573.14V1458.56H1570.36V1450.22H1567.58V1453.00H1564.80V1450.22H1562.02V1455.78H1556.46V1450.22H1553.68V1453.00H1548.12V1450.22H1545.34V1444.66H1542.56V1441.88H1534.22V1444.66H1531.44V1433.54H1528.66V1439.10H1525.88V1436.32H1523.10V1439.10H1520.32V1441.88H1517.54V1444.66H1514.76V1441.88H1511.98V1439.10H1509.20V1447.44H1506.42V1444.66H1503.64V1453.00H1500.86V1450.22H1492.52V1447.44H1489.74V1450.22H1486.96V1447.44H1484.18V1458.56H1481.40V1453.00H1475.84V1455.78H1473.06V1450.22H1470.28V1458.56H1467.50V1455.78H1461.94V1453.00H1459.16V1458.56H1456.38V1453.00H1450.82V1458.56H1448.04V1455.78H1445.26V1453.00H1442.48V1464.12H1439.70V1453.00H1436.92V1458.56H1423.02V1450.22H1420.24V1453.00H1417.46V1455.78H1414.68V1453.00H1411.90V1450.22H1409.12V1453.00H1400.78V1450.22H1398.00V1455.78H1395.22V1453.00H1392.44V1455.78H1386.88V1453.00H1381.32V1458.56H1378.54V1455.78H1375.76V1453.00H1372.98V1458.56H1370.20V1455.78H1367.42V1453.00H1359.08V1455.78H1356.30V1453.00H1350.74V1450.22H1347.96V1455.78H1345.18V1450.22H1342.40V1453.00H1336.84V1455.78H1331.28V1453.00H1325.72V1458.56H1322.94V1453.00H1320.16V1455.78H1317.38V1450.22H1311.82V1447.44H1309.04V1461.34H1306.26V1453.00H1303.48V1450.22H1297.92V1453.00H1292.36V1450.22H1289.58V1453.00H1286.80V1447.44H1284.02V1450.22H1281.24V1447.44H1278.46V1450.22H1275.68V1447.44H1270.12V1453.00H1267.34V1447.44H1264.56V1450.22H1261.78V1444.66H1253.44V1450.22H1247.88V1447.44H1245.10V1441.88H1242.32V1447.44H1236.76V1441.88H1233.98V1444.66H1228.42V1441.88H1225.64V1439.10H1222.86V1436.32H1220.08V1430.76H1217.30V1433.54H1214.52V1444.66H1206.18V1450.22H1203.40V1447.44H1195.06V1444.66H1192.28V1441.88H1189.50V1444.66H1183.94V1447.44H1181.16V1444.66H1172.82V1447.44H1158.92V1439.10H1156.14V1444.66H1147.80V1439.10H1145.02V1441.88H1142.24V1444.66H1139.46V1447.44H1136.68V1441.88H1128.34V1444.66H1125.56V1450.22H1122.78V1444.66H1114.44V1439.10H1111.66V1447.44H1108.88V1444.66H1106.10V1439.10H1100.54V1444.66H1097.76V1441.88H1092.20V1436.32H1089.42V1444.66H1086.64V1441.88H1083.86V1444.66H1078.30V1439.10H1075.52V1441.88H1072.74V1439.10H1069.96V1444.66H1067.18V1441.88H1064.40V1439.10H1056.06V1436.32H1036.60V1433.54H1033.82V1436.32H1031.04V1441.88H1028.26V1439.10H1022.70V1433.54H1019.92V1439.10H1017.14V1436.32H1014.36V1450.22H1011.58V1433.54H1008.80V1436.32H1006.02V1439.10H1003.24V1430.76H1000.46V1433.54H997.68V1439.10H992.12V1433.54H989.34V1436.32H986.56V1433.54H983.78V1436.32H981.00V1427.98H978.22V1439.10H975.44V1436.32H972.66V1430.76H969.88V1439.10H967.10V1436.32H964.32V1430.76H961.54V1436.32H958.76V1430.76H955.98V1433.54H953.20V1436.32H950.42V1433.54H947.64V1436.32H944.86V1439.10H939.30V1427.98H936.52V1433.54H933.74V1436.32H930.96V1427.98H928.18V1430.76H925.40V1427.98H922.62V1430.76H917.06V1439.10H914.28V1430.76H911.50V1436.32H908.72V1433.54H900.38V1425.20H897.60V1427.98H894.82V1422.42H889.26V1425.20H886.48V1419.64H883.70V1422.42H880.92V1419.64H878.14V1422.42H875.36V1416.86H872.58V1411.30H869.80V1419.64H867.02V1408.52H864.24V1411.30H861.46V1408.52H855.90V1400.18H850.34V1389.06H847.56V1394.62H844.78V1389.06H842.00V1386.28H839.22V1389.06H836.44V1391.84H833.66V1394.62H830.88V1402.96H828.10V1405.74H825.32V1411.30H822.54V1416.86H819.76V1411.30H816.98V1422.42H814.20V1416.86H811.42V1414.08H808.64V1416.86H800.30V1419.64H794.74V1416.86H783.62V1419.64H780.84V1414.08H778.06V1422.42H775.28V1416.86H769.72V1419.64H766.94V1411.30H764.16V1414.08H761.38V1411.30H758.60V1414.08H755.82V1416.86H753.04V1414.08H750.26V1416.86H744.70V1411.30H741.92V1414.08H733.58V1419.64H730.80V1408.52H728.02V1414.08H725.24V1405.74H722.46V1411.30H719.68V1416.86H716.90V1408.52H714.12V1405.74H711.34V1411.30H708.56V1414.08H705.78V1402.96H694.66V1397.40H691.88V1394.62H686.32V1397.40H683.54V1391.84H680.76V1389.06H677.98V1391.84H675.20V1377.94H672.42V1372.38H666.86V1355.70H664.08V1344.58H661.30V1336.24H658.52V1311.22H655.74V1294.54H652.96V1244.50H650.18V1202.80H647.40V1138.86H644.62V1080.48H641.84V999.86H639.06V963.72H636.28V1022.10H633.50V1094.38H630.72V1169.44H627.94V1225.04H625.16V1263.96H622.38V1297.32H619.60V1308.44H616.82V1333.46H614.04V1344.58H611.26V1350.14H605.70V1366.82H602.92V1375.16H600.14V1369.60H594.58V1375.16H591.80V1380.72H586.24V1383.50H583.46V1380.72H580.68V1377.94H577.90V1380.72H572.34V1383.50H569.56V1377.94H566.78V1386.28H564.00V1375.16H561.22V1380.72H558.44V1386.28H555.66V1375.16H552.88V1372.38H550.10V1377.94H544.54V1383.50H541.76V1380.72H536.20V1375.16H530.64V1377.94H527.86V1386.28H525.08V1369.60H522.30V1383.50H519.52V1377.94H516.74V1380.72H511.18V1377.94H508.40V1372.38H505.62V1375.16H502.84V1372.38H500.06V1375.16H497.28V1380.72H494.50V1372.38H491.72V1364.04H483.38V1372.38H480.60V1350.14H477.82V1341.80H475.04V1316.78H472.26V1297.32H469.48V1316.78H466.70V1344.58H463.92V1350.14H461.14V1361.26H458.36V1364.04H455.58V1366.82H452.80V1375.16H447.24V1372.38H444.46V1380.72H441.68V1372.38H438.90V1380.72H436.12V1375.16H427.78V1377.94H425.00V1375.16H419.44V1380.72H416.66V1377.94H413.88V1372.38H411.10V1380.72H408.32V1377.94H402.76V1380.72H399.98V1375.16H397.20V1380.72H394.42V1377.94H391.64V1380.72H388.86V1372.38H386.08V1377.94H383.30V1375.16H374.96V1369.60H372.18V1380.72H369.40V1366.82H366.62V1372.38H363.84V1369.60H361.06V1380.72H358.28V1377.94H355.50V1375.16H352.72V1366.82H349.94V1364.04H347.16V1369.60H341.60V1375.16H338.82V1372.38H336.04V1364.04H333.26V1369.60H327.70V1366.82H324.92V1369.60H322.14V1366.82H316.58V1358.48H313.80V1366.82H311.02V1364.04H308.24V1358.48H305.46V1355.70H302.68V1361.26H297.12V1352.92H294.34V1361.26H291.56V1355.70H288.78V1361.26H286.00V1355.70H283.22V1358.48H280.44V1344.58H277.66V1350.14H272.10V1341.80H269.32V1352.92H266.54V1347.36H263.76V1350.14H260.98V1344.58H258.20V1347.36H255.42V1341.80H252.64V1358.48H249.86V1347.36H247.08V1355.70H244.30V1341.80H241.52V1350.14H238.74V1347.36H235.96V1341.80H233.18V1347.36H230.40V1336.24H227.62V1352.92H224.84V1327.90H222.06V1336.24H219.28V1333.46H216.50V1339.02H213.72V1336.24H210.94V1322.34H208.16V1327.90H205.38V1316.78H202.60V1319.56H199.82V1330.68H197.04V1322.34H194.26V1316.78H185.92V1311.22H183.14V1322.34H180.36V1311.22H177.58V1308.44H172.02V1319.56H169.24V1314.00H166.46V1322.34H163.68V1308.44H160.90V1314.00H158.12V1316.78H152.56V1319.56H149.78V1322.34H147.00Z" fill="#000"/>
<g fill="#000">
<rect x="144.2" y="36.6" width="2194.9" height="5.4"/>
<rect x="144.2" y="1645" width="2194.9" height="5.3"/>
<rect x="144.2" y="36.6" width="5.7" height="1616.4"/>
<rect x="2322.6" y="36.6" width="5.5" height="1616.4"/>
<rect x="231.1" y="1648" width="5.6" height="33"/>
<rect x="371.1" y="1648" width="5.6" height="16.5"/>
<rect x="511.1" y="1648" width="5.6" height="33"/>
<rect x="651.1" y="1648" width="5.6" height="16.5"/>
<rect x="791.1" y="1648" width="5.6" height="33"/>
<rect x="931.1" y="1648" width="5.6" height="16.5"/>
<rect x="1071.1" y="1648" width="5.6" height="33"/>
<rect x="1211.1" y="1648" width="5.6" height="16.5"/>
<rect x="1351.1" y="1648" width="5.6" height="33"/>
<rect x="1491.1" y="1648" width="5.6" height="16.5"/>
<rect x="1631.1" y="1648" width="5.6" height="33"/>
<rect x="1771.1" y="1648" width="5.6" height="16.5"/>
<rect x="1911.1" y="1648" width="5.6" height="33"/>
<rect x="2051.1" y="1648" width="5.6" height="16.5"/>
<rect x="2191.1" y="1648" width="5.6" height="33"/>
<rect x="2331.1" y="1648" width="5.6" height="16.5"/>
</g>
<g font-family="'Liberation Serif', serif" font-size="81" text-anchor="middle" fill="#000">
<text x="232.9" y="1757.5">30</text>
<text x="512.9" y="1757.5">40</text>
<text x="792.9" y="1757.5">50</text>
<text x="1072.9" y="1757.5">60</text>
<text x="1352.9" y="1757.5">70</text>
<text x="1632.9" y="1757.5">80</text>
<text x="1912.9" y="1757.5">90</text>
<text x="2195.5" y="1757.5">100</text>
</g>
<g font-family="'Liberation Serif', serif" font-size="90" fill="#000">
<text x="1036" y="1854.5" textLength="450" lengthAdjust="spacingAndGlyphs">2θ (degree)</text>
<text transform="translate(93 1205) rotate(-90)" x="0" y="0" textLength="776" lengthAdjust="spacingAndGlyphs">Intensity (arb. unit)</text>
</g>
<rect x="1070.2" y="49.9" width="1211.8" height="205" fill="none" stroke="#000" stroke-width="2.8"/>
<rect x="1077.6" y="95.2" width="175.6" height="5.6" fill="#505050"/>
<rect x="1733.8" y="95.2" width="175.4" height="5.6" fill="#F04040"/>
<g font-family="'Liberation Serif', serif" font-size="66.5" fill="#000">
<text x="1267" y="122.5" textLength="417" lengthAdjust="spacingAndGlyphs">Unreacted Foil</text>
<text x="1922.5" y="122.5" textLength="351" lengthAdjust="spacingAndGlyphs">Reacted Foil</text>
<text x="1188" y="218.3" textLength="63" lengthAdjust="spacingAndGlyphs">Al</text>
<text x="1561" y="218.3" textLength="68" lengthAdjust="spacingAndGlyphs">Ni</text>
<text x="1805.5" y="218.3" fill="#f00">X</text>
<text x="1887" y="218.3" textLength="63" lengthAdjust="spacingAndGlyphs">Al</text>
<text x="1952" y="234" font-size="44.5">0.9</text>
<text x="2006" y="218.3" textLength="63" lengthAdjust="spacingAndGlyphs">Ni</text>
<text x="2071" y="234" font-size="44.5">1.1</text>
</g>
<circle cx="1155.5" cy="198" r="11.8" fill="#000"/>
<polygon points="1521.5,178.5 1536.3,198 1521.5,217.8 1506.8,198" fill="#000"/>
<text transform="translate(263.2 367.0) scale(1.204 1)" x="0" y="0" text-anchor="middle" font-family="'Liberation Sans', sans-serif" font-size="86.6" fill="#f00">X</text>
<text transform="translate(645.5 158.2) scale(0.472 1)" x="0" y="0" text-anchor="middle" font-family="'Liberation Sans', sans-serif" font-size="86.6" font-weight="bold" fill="#f00">X</text>
<text transform="translate(1212.6 520.3) scale(1.222 1)" x="0" y="0" text-anchor="middle" font-family="'Liberation Sans', sans-serif" font-size="86.6" fill="#f00">X</text>
<text transform="translate(1695.6 498.3) scale(1.204 1)" x="0" y="0" text-anchor="middle" font-family="'Liberation Sans', sans-serif" font-size="86.6" fill="#f00">X</text>
<text transform="translate(2156.0 559.6) scale(1.213 1)" x="0" y="0" text-anchor="middle" font-family="'Liberation Sans', sans-serif" font-size="86.6" fill="#f00">X</text>
<rect x="261.5" y="363.2" width="8.6" height="44.8" fill="#f00"/>
<rect x="258.9" y="444.4" width="8.6" height="45.0" fill="#f00"/>
<rect x="258.9" y="525.4" width="8.6" height="45.0" fill="#f00"/>
<rect x="258.9" y="606.4" width="8.6" height="46.6" fill="#f00"/>
<rect x="1208.1" y="516.8" width="8.6" height="45.0" fill="#f00"/>
<rect x="1208.1" y="598.0" width="8.6" height="45.0" fill="#f00"/>
<rect x="1208.1" y="679.0" width="8.6" height="45.0" fill="#f00"/>
<rect x="1208.1" y="760.0" width="8.6" height="45.0" fill="#f00"/>
<rect x="1694.1" y="494.4" width="8.6" height="22.6" fill="#f00"/>
<rect x="1691.3" y="517.0" width="8.6" height="21.8" fill="#f00"/>
<rect x="1691.3" y="575.5" width="8.6" height="44.5" fill="#f00"/>
<rect x="1691.3" y="656.4" width="8.6" height="44.6" fill="#f00"/>
<rect x="1691.7" y="737.5" width="8.6" height="22.5" fill="#f00"/>
<rect x="1688.7" y="760.0" width="8.6" height="23.0" fill="#f00"/>
<rect x="2151.9" y="556.0" width="9.4" height="42.0" fill="#f00"/>
<rect x="2151.9" y="637.0" width="9.4" height="21.0" fill="#f00"/>
<rect x="2149.7" y="658.0" width="9.4" height="20.5" fill="#f00"/>
<rect x="2148.8" y="717.6" width="9.4" height="42.4" fill="#f00"/>
<rect x="2148.8" y="798.6" width="9.4" height="43.4" fill="#f00"/>
<line x1="471.1" y1="1011" x2="471.1" y2="1290" stroke="#000" stroke-width="5.7" stroke-dasharray="33 29.3"/>
<line x1="845.4" y1="1094.5" x2="845.4" y2="1378" stroke="#000" stroke-width="5.6" stroke-dasharray="33 29.2"/>
<line x1="1228.0" y1="1137" x2="1228.0" y2="1419" stroke="#000" stroke-width="5.6" stroke-dasharray="32.7 29.3"/>
<line x1="1532.2" y1="1145" x2="1532.2" y2="1428" stroke="#000" stroke-width="5.6" stroke-dasharray="32 30.2"/>
<line x1="1990.2" y1="1145.3" x2="1990.2" y2="1428" stroke="#000" stroke-width="5.6" stroke-dasharray="32.4 29.8"/>
<line x1="2155.0" y1="1162.4" x2="2155.0" y2="1444" stroke="#000" stroke-width="5.6" stroke-dasharray="31.6 30.6"/>
<rect x="633.4" y="925" width="5.8" height="30" fill="#000"/>
<rect x="459.8" y="941.4" width="22.5" height="44" rx="11.2" ry="17.6" fill="#000"/>
<rect x="1215.1" y="1067.0" width="24" height="44.6" rx="12.0" ry="17.8" fill="#000"/>
<polygon points="637.0,885.1 649.5,908.4 637.0,931.6999999999999 624.5,908.4" fill="#000"/>
<polygon points="846.5,1022.2 859.0,1048.7 846.5,1075.2 834.0,1048.7" fill="#000"/>
<polygon points="1533.5,1072.25 1546.0,1096.0 1533.5,1119.75 1521.0,1096.0" fill="#000"/>
<polygon points="1991.7,1075.15 2004.2,1098.9 1991.7,1122.65 1979.2,1098.9" fill="#000"/>
<polygon points="2156.5,1089.15 2169.0,1115.5 2156.5,1141.85 2144.0,1115.5" fill="#000"/>
<text transform="translate(361 366.8) rotate(-90)" x="0" y="0" text-anchor="middle" font-family="'Liberation Serif', serif" font-size="67" fill="#f00">(100)</text>
<text transform="translate(730 342.9) rotate(-90)" x="0" y="0" text-anchor="middle" font-family="'Liberation Serif', serif" font-size="67" fill="#f00">(110)</text>
<text transform="translate(1244 380.5) rotate(-90)" x="0" y="0" text-anchor="middle" font-family="'Liberation Serif', serif" font-size="67" fill="#f00">(200)</text>
<text transform="translate(1722 356.8) rotate(-90)" x="0" y="0" text-anchor="middle" font-family="'Liberation Serif', serif" font-size="67" fill="#f00">(211)</text>
<text transform="translate(2191 366.1) rotate(-90)" x="0" y="0" text-anchor="middle" font-family="'Liberation Serif', serif" font-size="67" fill="#f00">(220)</text>
<text transform="translate(507 864.4) rotate(-90)" x="0" y="0" text-anchor="middle" font-family="'Liberation Serif', serif" font-size="67" fill="#000">(111)</text>
<text transform="translate(737 948.1) rotate(-90)" x="0" y="0" text-anchor="middle" font-family="'Liberation Serif', serif" font-size="67" fill="#000">(111)</text>
<text transform="translate(876 932.8) rotate(-90)" x="0" y="0" text-anchor="middle" font-family="'Liberation Serif', serif" font-size="67" fill="#000">(200)</text>
<text transform="translate(1256 968.4) rotate(-90)" x="0" y="0" text-anchor="middle" font-family="'Liberation Serif', serif" font-size="67" fill="#000">(220)</text>
<text transform="translate(1555 971.4) rotate(-90)" x="0" y="0" text-anchor="middle" font-family="'Liberation Serif', serif" font-size="67" fill="#000">(220)</text>
<text transform="translate(2026 980.6) rotate(-90)" x="0" y="0" text-anchor="middle" font-family="'Liberation Serif', serif" font-size="67" fill="#000">(311)</text>
<text transform="translate(2171 977.1) rotate(-90)" x="0" y="0" text-anchor="middle" font-family="'Liberation Serif', serif" font-size="67" fill="#000">(222)</text>
</svg>
</body></html>
